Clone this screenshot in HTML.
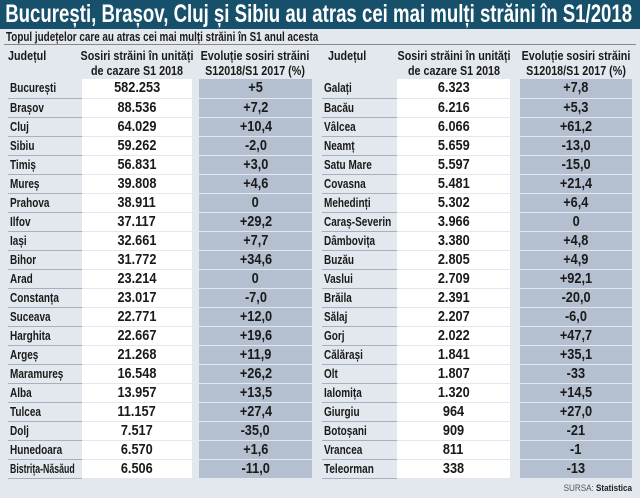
<!DOCTYPE html>
<html><head><meta charset="utf-8"><style>
*{margin:0;padding:0;box-sizing:border-box}
body{width:640px;height:498px;background:#e3e7ee;font-family:"Liberation Sans",sans-serif;position:relative;overflow:hidden;color:#1a1a1a}
#title{position:absolute;left:0;top:0;width:640px;height:29px;background:#17506b;color:#fff;font-weight:bold;font-size:25px;line-height:29px;white-space:nowrap;overflow:hidden}
#title span{display:inline-block;transform:scaleX(0.745);transform-origin:left;padding-left:7px}
#sub{position:absolute;left:6px;top:30px;font-size:13px;font-weight:bold;white-space:nowrap;transform:scaleX(0.76);transform-origin:left;line-height:14px}
#subline{position:absolute;left:4px;top:44px;width:632px;height:1px;background:#888}
.hdr{position:absolute;top:49px;font-weight:bold;font-size:12.5px;line-height:15px;text-align:center;white-space:nowrap;transform:scaleX(0.86)}
.t{position:absolute;top:79px;border-collapse:collapse;table-layout:fixed}
.t tr{height:19px}
.t td{height:19px;padding:0;font-weight:bold;font-size:13px;white-space:nowrap;border-bottom:1px solid #aab0bb;overflow:hidden;line-height:18px}
.t td.n{padding-left:2px;font-size:12.5px}
.t td.n span{display:inline-block;transform:scaleX(0.8);transform-origin:left}
.t td.n span.sq{transform:scaleX(0.7)}
.t td.w{background:#fff;text-align:center;font-size:15px;border-bottom:1px solid #e3e7ee}
.t td.g{background:transparent;border-bottom:none}
.t td.b{background:#b4bfcf;text-align:center;font-size:15px;border-bottom:1px solid #e3e7ee}
.t td.w span,.t td.b span{display:inline-block;transform:scaleX(0.85)}
#src{position:absolute;right:8px;top:483px;font-size:9px;color:#555;transform:scaleX(0.9);transform-origin:right}
#src b{color:#222}
</style></head><body>
<div id="title"><span>București, Brașov, Cluj și Sibiu au atras cei mai mulți străini în S1/2018</span></div>
<div id="sub">Topul județelor care au atras cei mai mulți străini în S1 anul acesta</div>
<div id="subline"></div>
<div class="hdr" style="left:8px;text-align:left;transform-origin:left">Județul</div>
<div class="hdr" style="left:70px;width:134px">Sosiri străini în unități<br>de cazare S1 2018</div>
<div class="hdr" style="left:190px;width:130px">Evoluție sosiri străini<br>S12018/S1 2017 (%)</div>
<div class="hdr" style="left:328px;text-align:left;transform-origin:left">Județul</div>
<div class="hdr" style="left:386px;width:136px">Sosiri străini în unități<br>de cazare S1 2018</div>
<div class="hdr" style="left:510px;width:132px">Evoluție sosiri străini<br>S12018/S1 2017 (%)</div>

<table class="t" style="left:8px;width:304px">
<colgroup><col style="width:74px"><col style="width:110px"><col style="width:7px"><col style="width:113px"></colgroup>
<tr><td class="n"><span>București</span></td><td class="w"><span>582.253</span></td><td class="g"></td><td class="b"><span>+5</span></td></tr>
<tr><td class="n"><span>Brașov</span></td><td class="w"><span>88.536</span></td><td class="g"></td><td class="b"><span>+7,2</span></td></tr>
<tr><td class="n"><span>Cluj</span></td><td class="w"><span>64.029</span></td><td class="g"></td><td class="b"><span>+10,4</span></td></tr>
<tr><td class="n"><span>Sibiu</span></td><td class="w"><span>59.262</span></td><td class="g"></td><td class="b"><span>-2,0</span></td></tr>
<tr><td class="n"><span>Timiș</span></td><td class="w"><span>56.831</span></td><td class="g"></td><td class="b"><span>+3,0</span></td></tr>
<tr><td class="n"><span>Mureș</span></td><td class="w"><span>39.808</span></td><td class="g"></td><td class="b"><span>+4,6</span></td></tr>
<tr><td class="n"><span>Prahova</span></td><td class="w"><span>38.911</span></td><td class="g"></td><td class="b"><span>0</span></td></tr>
<tr><td class="n"><span>Ilfov</span></td><td class="w"><span>37.117</span></td><td class="g"></td><td class="b"><span>+29,2</span></td></tr>
<tr><td class="n"><span>Iași</span></td><td class="w"><span>32.661</span></td><td class="g"></td><td class="b"><span>+7,7</span></td></tr>
<tr><td class="n"><span>Bihor</span></td><td class="w"><span>31.772</span></td><td class="g"></td><td class="b"><span>+34,6</span></td></tr>
<tr><td class="n"><span>Arad</span></td><td class="w"><span>23.214</span></td><td class="g"></td><td class="b"><span>0</span></td></tr>
<tr><td class="n"><span>Constanța</span></td><td class="w"><span>23.017</span></td><td class="g"></td><td class="b"><span>-7,0</span></td></tr>
<tr><td class="n"><span>Suceava</span></td><td class="w"><span>22.771</span></td><td class="g"></td><td class="b"><span>+12,0</span></td></tr>
<tr><td class="n"><span>Harghita</span></td><td class="w"><span>22.667</span></td><td class="g"></td><td class="b"><span>+19,6</span></td></tr>
<tr><td class="n"><span>Argeș</span></td><td class="w"><span>21.268</span></td><td class="g"></td><td class="b"><span>+11,9</span></td></tr>
<tr><td class="n"><span>Maramureș</span></td><td class="w"><span>16.548</span></td><td class="g"></td><td class="b"><span>+26,2</span></td></tr>
<tr><td class="n"><span>Alba</span></td><td class="w"><span>13.957</span></td><td class="g"></td><td class="b"><span>+13,5</span></td></tr>
<tr><td class="n"><span>Tulcea</span></td><td class="w"><span>11.157</span></td><td class="g"></td><td class="b"><span>+27,4</span></td></tr>
<tr><td class="n"><span>Dolj</span></td><td class="w"><span>7.517</span></td><td class="g"></td><td class="b"><span>-35,0</span></td></tr>
<tr><td class="n"><span>Hunedoara</span></td><td class="w"><span>6.570</span></td><td class="g"></td><td class="b"><span>+1,6</span></td></tr>
<tr><td class="n"><span class="sq">Bistrița-Năsăud</span></td><td class="w"><span>6.506</span></td><td class="g"></td><td class="b"><span>-11,0</span></td></tr>
</table>

<table class="t" style="left:322px;width:310px">
<colgroup><col style="width:75px"><col style="width:113px"><col style="width:10px"><col style="width:112px"></colgroup>
<tr><td class="n"><span>Galați</span></td><td class="w"><span>6.323</span></td><td class="g"></td><td class="b"><span>+7,8</span></td></tr>
<tr><td class="n"><span>Bacău</span></td><td class="w"><span>6.216</span></td><td class="g"></td><td class="b"><span>+5,3</span></td></tr>
<tr><td class="n"><span>Vâlcea</span></td><td class="w"><span>6.066</span></td><td class="g"></td><td class="b"><span>+61,2</span></td></tr>
<tr><td class="n"><span>Neamț</span></td><td class="w"><span>5.659</span></td><td class="g"></td><td class="b"><span>-13,0</span></td></tr>
<tr><td class="n"><span>Satu Mare</span></td><td class="w"><span>5.597</span></td><td class="g"></td><td class="b"><span>-15,0</span></td></tr>
<tr><td class="n"><span>Covasna</span></td><td class="w"><span>5.481</span></td><td class="g"></td><td class="b"><span>+21,4</span></td></tr>
<tr><td class="n"><span>Mehedinți</span></td><td class="w"><span>5.302</span></td><td class="g"></td><td class="b"><span>+6,4</span></td></tr>
<tr><td class="n"><span>Caraș-Severin</span></td><td class="w"><span>3.966</span></td><td class="g"></td><td class="b"><span>0</span></td></tr>
<tr><td class="n"><span>Dâmbovița</span></td><td class="w"><span>3.380</span></td><td class="g"></td><td class="b"><span>+4,8</span></td></tr>
<tr><td class="n"><span>Buzău</span></td><td class="w"><span>2.805</span></td><td class="g"></td><td class="b"><span>+4,9</span></td></tr>
<tr><td class="n"><span>Vaslui</span></td><td class="w"><span>2.709</span></td><td class="g"></td><td class="b"><span>+92,1</span></td></tr>
<tr><td class="n"><span>Brăila</span></td><td class="w"><span>2.391</span></td><td class="g"></td><td class="b"><span>-20,0</span></td></tr>
<tr><td class="n"><span>Sălaj</span></td><td class="w"><span>2.207</span></td><td class="g"></td><td class="b"><span>-6,0</span></td></tr>
<tr><td class="n"><span>Gorj</span></td><td class="w"><span>2.022</span></td><td class="g"></td><td class="b"><span>+47,7</span></td></tr>
<tr><td class="n"><span>Călărași</span></td><td class="w"><span>1.841</span></td><td class="g"></td><td class="b"><span>+35,1</span></td></tr>
<tr><td class="n"><span>Olt</span></td><td class="w"><span>1.807</span></td><td class="g"></td><td class="b"><span>-33</span></td></tr>
<tr><td class="n"><span>Ialomița</span></td><td class="w"><span>1.320</span></td><td class="g"></td><td class="b"><span>+14,5</span></td></tr>
<tr><td class="n"><span>Giurgiu</span></td><td class="w"><span>964</span></td><td class="g"></td><td class="b"><span>+27,0</span></td></tr>
<tr><td class="n"><span>Botoșani</span></td><td class="w"><span>909</span></td><td class="g"></td><td class="b"><span>-21</span></td></tr>
<tr><td class="n"><span>Vrancea</span></td><td class="w"><span>811</span></td><td class="g"></td><td class="b"><span>-1</span></td></tr>
<tr><td class="n"><span>Teleorman</span></td><td class="w"><span>338</span></td><td class="g"></td><td class="b"><span>-13</span></td></tr>
</table>
<div id="src">SURSA: <b>Statistica</b></div>
</body></html>
